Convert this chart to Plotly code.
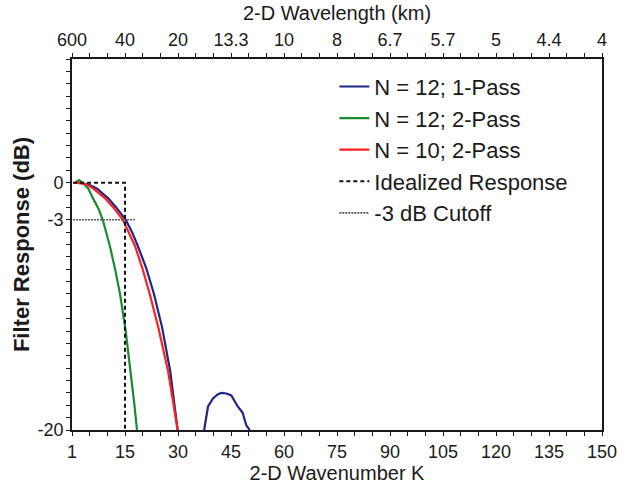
import plotly.graph_objects as go

# ---- data ----
k_ticks = [0, 15, 30, 45, 60, 75, 90, 105, 120, 135, 150]
k_ticktext = ["1", "15", "30", "45", "60", "75", "90", "105", "120", "135", "150"]
wl_ticktext = ["600", "40", "20", "13.3", "10", "8", "6.7", "5.7", "5", "4.4", "4"]
db_ticks = [0, -3, -20]
db_ticktext = ["0", "-3", "-20"]

# N = 12; 1-Pass (main lobe, gap, side lobe)
blue_k = [1, 3, 5, 7, 10.2, 12.5, 15.2, 17, 18.6, 21, 23.2, 25.5, 27.8, 29.9,
          None,
          37.4, 38.5, 39.9, 41.3, 42.3, 43.7, 45.1, 46.9, 48.3, 49.3, 50.3]
blue_db = [0, -0.05, -0.2, -0.47, -1.25, -2.0, -3.0, -4.0, -5.1, -6.9, -9.0, -11.7, -15.25, -20,
           None,
           -20, -18.1, -17.45, -17.1, -17.0, -17.05, -17.2, -18.1, -18.6, -19.6, -20]

# N = 12; 2-Pass
green_k = [1, 2, 3, 4.6, 5.9, 7.5, 8.7, 10.7, 12.2, 13.6, 15.2, 16.6, 17.6, 18.4]
green_db = [0, 0.2, 0, -0.47, -1.25, -2.1, -3.0, -5.1, -7.0, -9.0, -12.0, -15.25, -17.8, -20]

# N = 10; 2-Pass
red_k = [1, 3, 4.5, 6, 9.3, 12, 14.4, 16, 17.8, 20, 22, 24.5, 27.2, 29.9]
red_db = [0, -0.05, -0.2, -0.47, -1.25, -2.1, -3.0, -4.0, -5.1, -7.0, -9.0, -11.8, -15.25, -20]

ideal_k = [0.3, 15, 15]
ideal_db = [0, 0, -20]

cut_k = [0.3, 17.8]
cut_db = [-3, -3]

FONT = "Liberation Sans, Arial, sans-serif"

fig = go.Figure()
fig.add_trace(go.Scatter(x=blue_k, y=blue_db, mode="lines", name="N = 12; 1-Pass",
                         line=dict(color="#1f2683", width=2.2), connectgaps=False))
fig.add_trace(go.Scatter(x=green_k, y=green_db, mode="lines", name="N = 12; 2-Pass",
                         line=dict(color="#1c8a33", width=2.2)))
fig.add_trace(go.Scatter(x=red_k, y=red_db, mode="lines", name="N = 10; 2-Pass",
                         line=dict(color="#ff1f1f", width=2.2)))
fig.add_trace(go.Scatter(x=ideal_k, y=ideal_db, mode="lines", name="Idealized Response",
                         line=dict(color="#111111", width=2, dash="4px,3px")))
fig.add_trace(go.Scatter(x=cut_k, y=cut_db, mode="lines", name="-3 dB Cutoff",
                         line=dict(color="#555555", width=1.6, dash="2px,1px")))
# dummy trace so the top (wavelength) axis is drawn
fig.add_trace(go.Scatter(x=[0, 150], y=[None, None], xaxis="x2", mode="lines",
                         showlegend=False, hoverinfo="skip"))

axis_common = dict(showgrid=False, zeroline=False, showline=True, linecolor="#1a1a1a",
                   linewidth=1.8, ticks="outside", ticklen=4, tickwidth=1.2,
                   tickcolor="#1a1a1a", tickfont=dict(family=FONT, size=18, color="#1a1a1a"))

fig.update_layout(
    width=629, height=490,
    margin=dict(l=72, r=25, t=54, b=49),
    paper_bgcolor="white", plot_bgcolor="white",
    font=dict(family=FONT, color="#1a1a1a"),
    xaxis=dict(range=[0, 150], tickmode="array", tickvals=k_ticks, ticktext=k_ticktext,
               title=dict(text="2-D Wavenumber K", font=dict(family=FONT, size=20), standoff=2),
               minor=dict(tickmode="linear", tick0=0, dtick=5, ticks="outside", ticklen=4,
                          tickwidth=1.2, tickcolor="#1a1a1a"),
               **axis_common),
    xaxis2=dict(range=[0, 150], overlaying="x", side="top", tickmode="array",
                tickvals=k_ticks, ticktext=wl_ticktext,
                title=dict(text="2-D Wavelength (km)", font=dict(family=FONT, size=20), standoff=4),
                minor=dict(tickmode="linear", tick0=0, dtick=5, ticks="outside", ticklen=4,
                           tickwidth=1.2, tickcolor="#1a1a1a"),
                **axis_common),
    yaxis=dict(range=[-20, 10], tickmode="array", tickvals=db_ticks, ticktext=db_ticktext,
               ticklabelstandoff=-1,
               title=dict(text="<b>Filter Response (dB)</b>", font=dict(family=FONT, size=22),
                          standoff=2),
               mirror=True,
               minor=dict(tickmode="linear", tick0=0, dtick=1, ticks="outside", ticklen=4,
                          tickwidth=1.2, tickcolor="#1a1a1a"),
               **axis_common),
    legend=dict(x=0.495, y=0.982, xanchor="left", yanchor="top",
                font=dict(family=FONT, size=22, color="#1a1a1a"),
                bgcolor="rgba(0,0,0,0)", borderwidth=0, tracegroupgap=0),
    showlegend=True,
)

fig.write_html("out.html")
